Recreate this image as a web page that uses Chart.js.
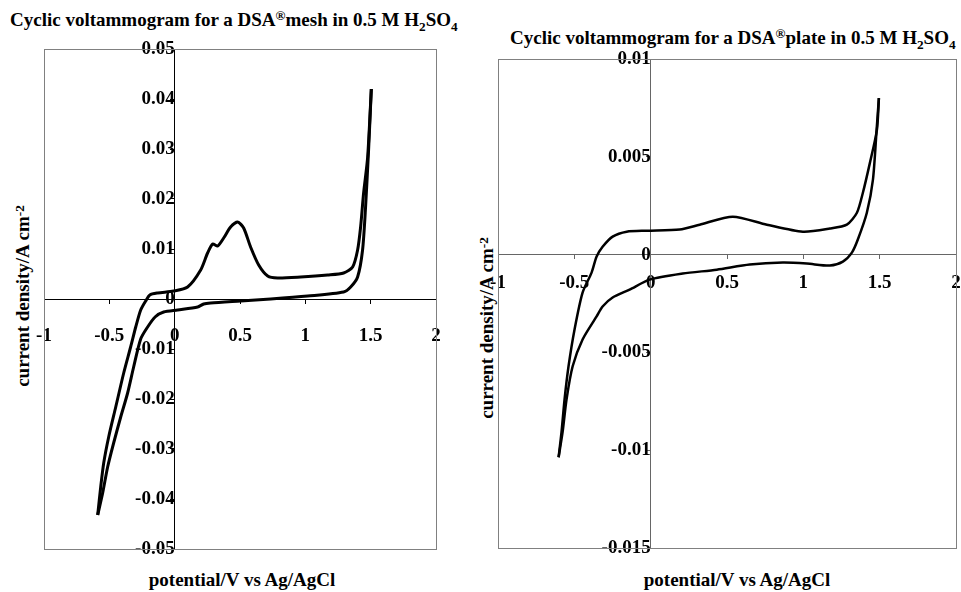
<!DOCTYPE html>
<html>
<head>
<meta charset="utf-8">
<script src="https://cdn.jsdelivr.net/npm/chart.js@4"></script>
<style>
  body { margin: 0; background: #fff; }
  #page { position: relative; width: 961px; height: 592px; overflow: hidden; font-family: "Liberation Serif", "DejaVu Serif", serif; font-weight: bold; color: #000; }
  canvas { position: absolute; top: 0; }
  .title { position: absolute; font-size: 19px; white-space: nowrap; }
  .xlab { position: absolute; font-size: 19px; white-space: nowrap; transform: translateX(-50%); }
  .ylab { position: absolute; font-size: 19px; white-space: nowrap; transform: translate(-50%, -50%) rotate(-90deg); }
  sub { font-size: 70%; vertical-align: -0.35em; }
  sup { font-size: 70%; vertical-align: 0.45em; }
</style>
</head>
<body>
<div id="page">
  <div class="title" style="left:10px; top:8px;">Cyclic voltammogram for a DSA<sup>®</sup>mesh in 0.5 M H<sub>2</sub>SO<sub>4</sub></div>
  <div class="title" style="left:510px; top:26px;">Cyclic voltammogram for a DSA<sup>®</sup>plate in 0.5 M H<sub>2</sub>SO<sub>4</sub></div>
  <div class="xlab" style="left:242px; top:569px;">potential/V vs Ag/AgCl</div>
  <div class="xlab" style="left:737px; top:569px;">potential/V vs Ag/AgCl</div>
  <div class="ylab" style="left:23px; top:296px;">current density/A cm<sup>-2</sup></div>
  <div class="ylab" style="left:487px; top:328px;">current density/A cm<sup>-2</sup></div>
  <canvas id="mesh" width="480" height="592" style="left:0; width:480px; height:592px;"></canvas>
  <canvas id="plate" width="481" height="592" style="left:480px; width:481px; height:592px;"></canvas>
</div>

<script>
// DSA mesh: forward (anodic) sweep from -0.6 V to 1.5 V
var meshFwdV = [-0.589, -0.566, -0.543, -0.505, -0.451, -0.390, -0.337, -0.298, -0.260, -0.222, -0.190, -0.130, -0.008, 0.099, 0.199, 0.252, 0.291, 0.329, 0.375, 0.428, 0.482, 0.528, 0.581, 0.643, 0.712, 0.788, 0.964, 1.171, 1.293, 1.362, 1.400, 1.423, 1.446, 1.477, 1.505];
var meshFwdI = [-0.0432, -0.0376, -0.0328, -0.0276, -0.0216, -0.0148, -0.0096, -0.0056, -0.0022, -0.0004, 0.0008, 0.0012, 0.0016, 0.0024, 0.0058, 0.0092, 0.0110, 0.0106, 0.0122, 0.0144, 0.0154, 0.0142, 0.0104, 0.0068, 0.0046, 0.0042, 0.0044, 0.0048, 0.0052, 0.0064, 0.0098, 0.0144, 0.0212, 0.0284, 0.0420];
// DSA mesh: reverse (cathodic) sweep from 1.5 V back to -0.6 V
var meshRevV = [1.505, 1.484, 1.461, 1.438, 1.400, 1.347, 1.293, 1.018, 0.735, 0.505, 0.275, 0.222, 0.176, 0.023, -0.084, -0.150, -0.207, -0.260, -0.314, -0.360, -0.413, -0.467, -0.513, -0.551, -0.589];
var meshRevI = [0.0420, 0.0298, 0.0184, 0.0098, 0.0044, 0.0024, 0.0014, 0.0006, 0.0000, -0.0004, -0.0008, -0.0010, -0.0016, -0.0022, -0.0026, -0.0036, -0.0056, -0.0080, -0.0136, -0.0188, -0.0236, -0.0288, -0.0336, -0.0388, -0.0432];

// DSA plate: forward sweep
var plateFwdV = [-0.603, -0.584, -0.564, -0.538, -0.498, -0.446, -0.387, -0.354, -0.315, -0.249, -0.157, -0.026, 0.190, 0.321, 0.538, 0.761, 0.997, 1.174, 1.285, 1.351, 1.390, 1.436, 1.482, 1.495];
var plateFwdI = [-0.01036, -0.00908, -0.0074, -0.00571, -0.00380, -0.00194, -0.00092, -0.0001, 0.0004, 0.00092, 0.00117, 0.00122, 0.00128, 0.00153, 0.00194, 0.00153, 0.00117, 0.00133, 0.00153, 0.00214, 0.00316, 0.00469, 0.00638, 0.0080];
// DSA plate: reverse sweep
var plateRevV = [1.495, 1.480, 1.456, 1.416, 1.357, 1.318, 1.259, 1.174, 1.023, 0.866, 0.649, 0.433, 0.210, -0.007, -0.138, -0.249, -0.315, -0.354, -0.446, -0.511, -0.551, -0.577, -0.603];
var plateRevI = [0.0080, 0.00638, 0.00383, 0.00214, 0.00077, 0.0001, -0.00036, -0.00056, -0.00046, -0.00041, -0.00051, -0.00077, -0.00097, -0.00128, -0.00179, -0.00219, -0.00265, -0.00316, -0.00434, -0.00571, -0.0074, -0.00908, -0.01036];

// axis ranges / tick steps
var xRange = [-1, 2], xStep = 0.5;
var meshYRange = [-0.05, 0.05], meshYStep = 0.01;
var plateYRange = [-0.015, 0.01], plateYStep = 0.005;

function pts(vs, is) {
  return vs.map(function (v, k) { return { x: v, y: is[k] }; });
}

function fmt(v) {
  return String(parseFloat(v.toFixed(4)));
}

// grey frame around the plot area
var framePlugin = {
  id: 'frame',
  beforeDatasetsDraw: function (chart, args, opts) {
    var a = chart.chartArea, ctx = chart.ctx;
    ctx.save();
    ctx.strokeStyle = opts.color || '#808080';
    ctx.lineWidth = 1;
    ctx.strokeRect(Math.round(a.left) + 0.5, Math.round(a.top) + 0.5, Math.round(a.right - a.left), Math.round(a.bottom - a.top));
    ctx.restore();
  }
};

function makeChart(id, fwd, rev, yRange, yStep, o) {
  var fam = '"Liberation Serif", serif';
  // tall line height pushes the x labels below the zero line, as in the original
  var xFont = { family: fam, size: 19, weight: 'bold', lineHeight: o.xLabelGap };
  var yFont = { family: fam, size: 19, weight: 'bold' };
  return new Chart(document.getElementById(id), {
    type: 'scatter',
    data: {
      datasets: [
        { data: fwd, showLine: true, borderColor: '#000', borderWidth: o.lineW, pointRadius: 0, tension: 0.25, fill: false },
        { data: rev, showLine: true, borderColor: '#000', borderWidth: o.lineW, pointRadius: 0, tension: 0.25, fill: false }
      ]
    },
    options: {
      responsive: false,
      animation: false,
      layout: { padding: o.pad },
      plugins: { legend: { display: false }, tooltip: { enabled: false }, frame: { color: '#808080' } },
      scales: {
        x: {
          type: 'linear', min: xRange[0], max: xRange[1],
          position: { y: 0 },
          ticks: { stepSize: xStep, color: '#000', font: xFont, padding: 0, callback: fmt, maxRotation: 0 },
          grid: { drawOnChartArea: false, tickLength: 4, color: o.axisColor },
          border: { color: o.axisColor, width: 1 }
        },
        y: {
          type: 'linear', min: yRange[0], max: yRange[1],
          position: { x: 0 },
          ticks: { stepSize: yStep, color: '#000', font: yFont, padding: o.yPad, callback: fmt },
          grid: { drawOnChartArea: false, tickLength: 4, color: o.axisColor },
          border: { color: o.axisColor, width: 1 }
        }
      }
    },
    plugins: [framePlugin]
  });
}

makeChart('mesh', pts(meshFwdV, meshFwdI), pts(meshRevV, meshRevI), meshYRange, meshYStep,
  { pad: { left: 44, top: 49, right: 44, bottom: 43 }, axisColor: '#000', lineW: 3, xLabelGap: '66px', yPad: 6 });
makeChart('plate', pts(plateFwdV, plateFwdI), pts(plateRevV, plateRevI), plateYRange, plateYStep,
  { pad: { left: 18, top: 59, right: 5, bottom: 44 }, axisColor: '#666', lineW: 2.5, xLabelGap: '48px', yPad: 8 });
</script>
</body>
</html>
